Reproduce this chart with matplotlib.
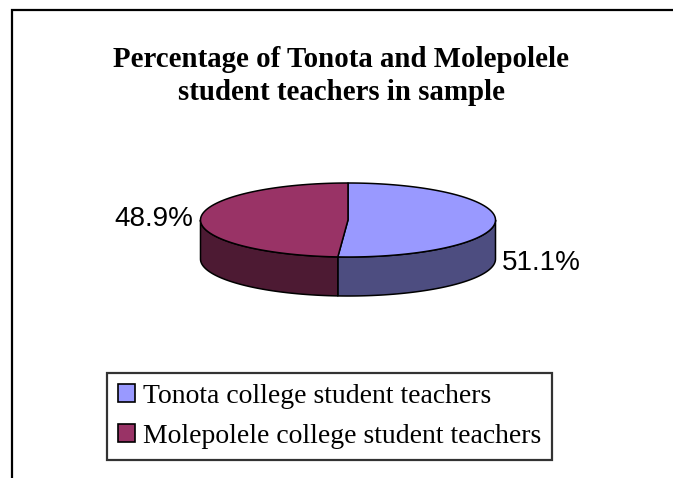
import numpy as np
import matplotlib
matplotlib.use("Agg")
import matplotlib.pyplot as plt
from matplotlib.patches import Polygon, Patch

# ---- data ----
categories = ["Tonota college student teachers", "Molepolele college student teachers"]
values = [51.1, 48.9]
labels = ["51.1%", "48.9%"]
title = "Percentage of Tonota and Molepolele\nstudent teachers in sample"

top_colors = ["#9999FF", "#993366"]
side_colors = ["#4D4D80", "#4D1A33"]

W, H = 673, 478
fig = plt.figure(figsize=(W / 100, H / 100), dpi=100)
ax = fig.add_axes([0, 0, 1, 1])
ax.set_xlim(0, W)
ax.set_ylim(H, 0)
ax.axis("off")

# outer chart frame (extends off right/bottom)
ax.plot([12, 12, W + 5], [H + 5, 10, 10], color="black", lw=1.6, solid_joinstyle="miter")

# title
fig.text(341 / W, 1 - 76 / H, title, ha="center", va="center",
         family="Liberation Serif", weight="bold", fontsize=20.8, linespacing=1.3)

# ---- 3D pie geometry ----
cx, cy, a, b, depth = 348, 220, 147.5, 37, 39

def pt(phi_deg, dy=0.0):
    p = np.radians(phi_deg)
    return cx + a * np.sin(p), cy - b * np.cos(p) + dy

fracs = np.array(values) / np.sum(values)
bounds = np.concatenate([[0], np.cumsum(fracs) * 360])

# side walls (front half: 90..270 deg)
for i in range(len(values)):
    s, e = bounds[i], bounds[i + 1]
    lo, hi = max(s, 90), min(e, 270)
    if hi <= lo:
        continue
    ph = np.linspace(lo, hi, 100)
    top = [pt(p) for p in ph]
    bot = [pt(p, depth) for p in ph[::-1]]
    ax.add_patch(Polygon(top + bot, closed=True, facecolor=side_colors[i],
                         edgecolor="black", lw=1.1, joinstyle="round"))

# top faces
for i in range(len(values)):
    s, e = bounds[i], bounds[i + 1]
    ph = np.linspace(s, e, 200)
    poly = [(cx, cy)] + [pt(p) for p in ph]
    ax.add_patch(Polygon(poly, closed=True, facecolor=top_colors[i],
                         edgecolor="black", lw=1.1, joinstyle="round"))

# data labels
ax.text(cx + a + 6, cy + 43, labels[0], ha="left", va="center",
        family="Liberation Sans", fontsize=20)
ax.text(cx - a - 7, cy - 1, labels[1], ha="right", va="center",
        family="Liberation Sans", fontsize=20)

# legend
handles = [Patch(facecolor=c, edgecolor="black", lw=1.2) for c in top_colors]
leg = ax.legend(handles, categories, loc="upper left",
                bbox_to_anchor=(107 / W, 1 - 373 / H), bbox_transform=fig.transFigure,
                frameon=True, fancybox=False, edgecolor="black",
                prop={"family": "Liberation Serif", "size": 20},
                handlelength=0.62, handleheight=0.62, handletextpad=0.28,
                borderpad=0.4, labelspacing=0.52, borderaxespad=0)
leg.get_frame().set_linewidth(1.6)

fig.savefig("out.png", dpi=100)
